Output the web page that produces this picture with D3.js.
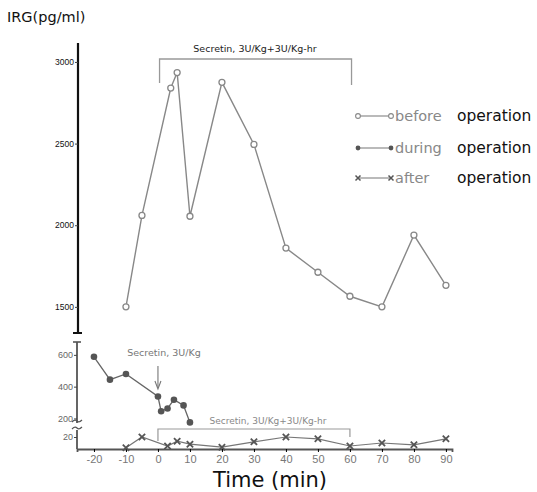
<!DOCTYPE html>
<html>
<head>
<meta charset="utf-8">
<script src="https://cdn.jsdelivr.net/npm/d3@7"></script>
<style>
  body { margin: 0; background: #fff; }
  svg { display: block; font-family: "DejaVu Sans", sans-serif; }
</style>
</head>
<body>
<script>
// before operation (open circles)
const beforeTime = [-10, -5, 4, 6, 10, 20, 30, 40, 50, 60, 70, 80, 90];
const beforeIRG  = [1500, 2060, 2840, 2935, 2055, 2875, 2495, 1860, 1712, 1565, 1500, 1940, 1632];
// during operation (filled circles)
const duringTime = [-20, -15, -10, 0, 1, 3, 5, 8, 10];
const duringIRG  = [588, 444, 480, 338, 245, 263, 318, 282, 175];
// after operation (x marks)
const afterTime = [-10, -5, 3, 6, 10, 20, 30, 40, 50, 60, 70, 80, 90];
const afterIRG  = [2, 20, 5, 13, 8, 3, 12, 20, 17, 5, 10, 7, 17];

const xTicks = [-20, -10, 0, 10, 20, 30, 40, 50, 60, 70, 80, 90];
const upperTicks = [1500, 2000, 2500, 3000];
const lowerTicks = [200, 400, 600];
const afterTicks = [20];
const legendLabels = ["before", "during", "after"];

let width = 537, height = 492;

let x = d3.scaleLinear().domain([-25.3, 91.9]).range([77, 452]);
let yUp = d3.scaleLinear().domain([1340, 3116]).range([333, 43]);
let yDur = d3.scaleLinear().domain([165, 681]).range([424, 342]);
let yAft = d3.scaleLinear().domain([0, 20]).range([449, 437]);

let svg = d3.select("body").append("svg")
    .attr("width", width)
    .attr("height", height);

// upper axis
let axisX = 78;
svg.append("line").attr("x1", axisX).attr("x2", axisX)
    .attr("y1", yUp.range()[1]).attr("y2", yUp.range()[0])
    .attr("stroke", "#111").attr("stroke-width", 2.2);
svg.append("line").attr("x1", axisX - 5).attr("x2", axisX + 4)
    .attr("y1", 333).attr("y2", 333).attr("stroke", "#111").attr("stroke-width", 2);

let gUp = svg.append("g").attr("transform", "translate(" + axisX + ",0)")
    .call(d3.axisLeft(yUp).tickValues(upperTicks).tickFormat(d3.format("d")).tickSize(3).tickPadding(1));
gUp.select(".domain").remove();
gUp.selectAll("text").attr("font-size", 8.5).attr("fill", "#111");

// lower axis (two pieces with a break)
let lowX = 77;
svg.append("line").attr("x1", lowX).attr("x2", lowX).attr("y1", 342).attr("y2", 423)
    .attr("stroke", "#555").attr("stroke-width", 1.8);
svg.append("line").attr("x1", lowX - 4).attr("x2", lowX + 4).attr("y1", 342).attr("y2", 342)
    .attr("stroke", "#555").attr("stroke-width", 1.6);
svg.append("line").attr("x1", lowX).attr("x2", lowX).attr("y1", 430).attr("y2", 449)
    .attr("stroke", "#555").attr("stroke-width", 1.8);
[421, 428].forEach(function(yy) {
  svg.append("path")
      .attr("d", "M" + (lowX - 5) + "," + (yy + 1) + " Q" + (lowX - 2) + "," + (yy - 2) + " " + lowX + "," + yy + " T" + (lowX + 5) + "," + (yy - 1))
      .attr("fill", "none").attr("stroke", "#555").attr("stroke-width", 1.2);
});

let gDur = svg.append("g").attr("transform", "translate(" + lowX + ",0)")
    .call(d3.axisLeft(yDur).tickValues(lowerTicks).tickSize(3).tickPadding(1));
gDur.select(".domain").remove();
let gAft = svg.append("g").attr("transform", "translate(" + lowX + ",0)")
    .call(d3.axisLeft(yAft).tickValues(afterTicks).tickSize(3).tickPadding(1));
gAft.select(".domain").remove();
svg.selectAll(".tick line").attr("stroke", "#444");
gDur.selectAll("text").attr("font-size", 9).attr("fill", "#666");
gAft.selectAll("text").attr("font-size", 9).attr("fill", "#666");

let gX = svg.append("g").attr("transform", "translate(0,449)")
    .call(d3.axisBottom(x).tickValues(xTicks).tickSize(3).tickPadding(3));
gX.select(".domain").attr("stroke", "#555").attr("stroke-width", 1.8);
gX.selectAll("text").attr("font-size", 11).attr("fill", "#777")
    .text(function(d) { return d < 0 ? "-" + Math.abs(d) : d; });

// series
let lineUp = d3.line().x(function(d) { return x(d[0]); }).y(function(d) { return yUp(d[1]); });
let lineDur = d3.line().x(function(d) { return x(d[0]); }).y(function(d) { return yDur(d[1]); });
let lineAft = d3.line().x(function(d) { return x(d[0]); }).y(function(d) { return yAft(d[1]); });

let before = d3.zip(beforeTime, beforeIRG);
let during = d3.zip(duringTime, duringIRG);
let after = d3.zip(afterTime, afterIRG);

svg.append("path").datum(before).attr("d", lineUp)
    .attr("fill", "none").attr("stroke", "#888").attr("stroke-width", 1.4);
svg.selectAll(".pb").data(before).enter().append("circle")
    .attr("cx", function(d) { return x(d[0]); }).attr("cy", function(d) { return yUp(d[1]); })
    .attr("r", 3).attr("fill", "#fff").attr("stroke", "#888").attr("stroke-width", 1.3);

svg.append("path").datum(during).attr("d", lineDur)
    .attr("fill", "none").attr("stroke", "#666").attr("stroke-width", 1.3);
svg.selectAll(".pd").data(during).enter().append("circle")
    .attr("cx", function(d) { return x(d[0]); }).attr("cy", function(d) { return yDur(d[1]); })
    .attr("r", 3.3).attr("fill", "#555");

svg.append("path").datum(after).attr("d", lineAft)
    .attr("fill", "none").attr("stroke", "#777").attr("stroke-width", 1.2);
let xMark = d3.symbol().type(d3.symbolX).size(28);
svg.selectAll(".pa").data(after).enter().append("path")
    .attr("transform", function(d) { return "translate(" + x(d[0]) + "," + yAft(d[1]) + ")"; })
    .attr("d", xMark).attr("fill", "none").attr("stroke", "#555").attr("stroke-width", 1.8);

// secretin annotations
svg.append("path")
    .attr("d", "M" + x(0.5) + "," + 83 + " V59 H" + x(60.5) + " V85")
    .attr("fill", "none").attr("stroke", "#999").attr("stroke-width", 1.3);
svg.append("text").attr("x", 255).attr("y", 52).attr("text-anchor", "middle")
    .attr("font-size", 9.5).attr("fill", "#222").text("Secretin, 3U/Kg+3U/Kg-hr");

svg.append("text").attr("x", 164).attr("y", 356).attr("text-anchor", "middle")
    .attr("font-size", 9.5).attr("fill", "#777").text("Secretin, 3U/Kg");
svg.append("line").attr("x1", x(0)).attr("x2", x(0)).attr("y1", 366).attr("y2", 388)
    .attr("stroke", "#777").attr("stroke-width", 1.1);
svg.append("path").attr("d", "M" + (x(0) - 3) + ",381 L" + x(0) + ",389 L" + (x(0) + 3) + ",381")
    .attr("fill", "none").attr("stroke", "#777").attr("stroke-width", 1.1);

svg.append("path")
    .attr("d", "M" + x(0) + ",441 V429 H" + x(60) + " V437")
    .attr("fill", "none").attr("stroke", "#999").attr("stroke-width", 1.2);
svg.append("text").attr("x", 268).attr("y", 424).attr("text-anchor", "middle")
    .attr("font-size", 9).attr("fill", "#888").text("Secretin, 3U/Kg+3U/Kg-hr");

// legend
let legY = [116, 148, 178];
legendLabels.forEach(function(lab, i) {
  let g = svg.append("g").attr("transform", "translate(0," + legY[i] + ")");
  g.append("line").attr("x1", 358).attr("x2", 391).attr("y1", 0).attr("y2", 0)
      .attr("stroke", "#777").attr("stroke-width", 1.2);
  [358, 391].forEach(function(mx) {
    if (i === 0) {
      g.append("circle").attr("cx", mx).attr("cy", 0).attr("r", 2.4)
          .attr("fill", "#fff").attr("stroke", "#888").attr("stroke-width", 1.1);
    } else if (i === 1) {
      g.append("circle").attr("cx", mx).attr("cy", 0).attr("r", 2.4).attr("fill", "#555");
    } else {
      g.append("path").attr("transform", "translate(" + mx + ",0)")
          .attr("d", d3.symbol().type(d3.symbolX).size(18))
          .attr("fill", "none").attr("stroke", "#555").attr("stroke-width", 1.5);
    }
  });
  g.append("text").attr("x", 395).attr("y", 5).attr("font-size", 14.5)
      .attr("fill", "#888").text(lab);
  g.append("text").attr("x", 457).attr("y", 5).attr("font-size", 15.5)
      .attr("fill", "#111").text("operation");
});

// axis titles
svg.append("text").attr("x", 7).attr("y", 22).attr("font-size", 14.5)
    .attr("fill", "#111").text("IRG(pg/ml)");
svg.append("text").attr("x", 270).attr("y", 487).attr("text-anchor", "middle")
    .attr("font-size", 21).attr("fill", "#111").text("Time (min)");
</script>
</body>
</html>
